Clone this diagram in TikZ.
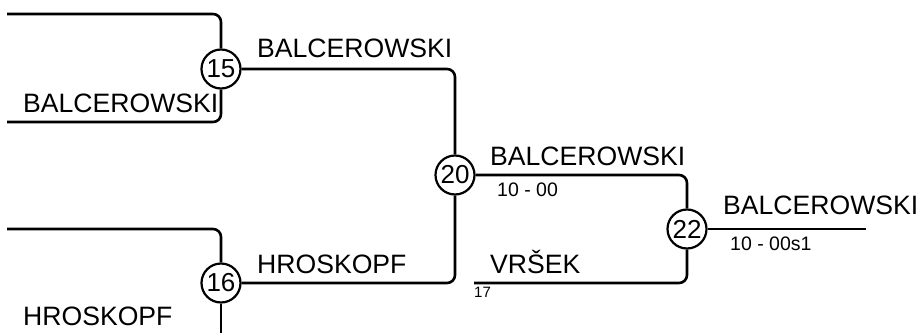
\documentclass[tikz,border=0pt]{standalone}
\usepackage{fontspec}
\setmainfont{Liberation Sans}
\begin{document}
\begin{tikzpicture}[x=1pt,y=-1pt,
  bline/.style={line width=2.6pt,rounded corners=8pt},
  seedc/.style={circle,draw,line width=2.2pt,minimum size=39pt,inner sep=0pt,font=\fontsize{26}{28}\selectfont},
  player/.style={anchor=base west,inner sep=0pt,font=\fontsize{26.6}{28}\selectfont},
  scorelbl/.style={anchor=base west,inner sep=0pt,font=\fontsize{19.5}{22}\selectfont},
  tinylbl/.style={anchor=base west,inner sep=0pt,font=\fontsize{15}{16}\selectfont}]
\useasboundingbox (0,0) rectangle (920,332);
\clip (0,0) rectangle (920,332);
% match circles
\node[seedc] (c15) at (221,69) {15};
\node[seedc] (c16) at (221,283) {16};
\node[seedc] (c20) at (455,175) {20};
\node[seedc] (c22) at (687,229) {22};
% free ends
\coordinate (a1) at (7,14);
\coordinate (a2) at (7,122);
\coordinate (b1) at (7,229);
\coordinate (b2) at (221,345);
\coordinate (v17) at (474,283);
\coordinate (fin) at (866,229);
% connectors
\draw[bline] (a1) -| (c15.north);
\draw[bline] (a2) -| (c15.south);
\draw[bline] (b1) -| (c16.north);
\draw[bline] (c16.south) -- (b2);
\draw[bline] (c15.east) -| (c20.north);
\draw[bline] (c16.east) -| (c20.south);
\draw[bline] (c20.east) -| (c22.north);
\draw[bline] (v17) -| (c22.south);
\draw[bline] (c22.east) -- (fin);
% labels
\node[player] (n1) at (23,112) {BALCEROWSKI};
\node[player] (n2) at (23,325) {HROSKOPF};
\node[player] (n3) at (257,57) {BALCEROWSKI};
\node[player] (n4) at (257,273) {HROSKOPF};
\node[player] (n5) at (490,165) {BALCEROWSKI};
\node[scorelbl] (s5) at (497,196) {10 - 00};
\node[player] (n6) at (490,273) {VRŠEK};
\node[tinylbl] (t6) at (474,297) {17};
\node[player] (n7) at (723,214) {BALCEROWSKI};
\node[scorelbl] (s7) at (730,250) {10 - 00s1};
\end{tikzpicture}
\end{document}
